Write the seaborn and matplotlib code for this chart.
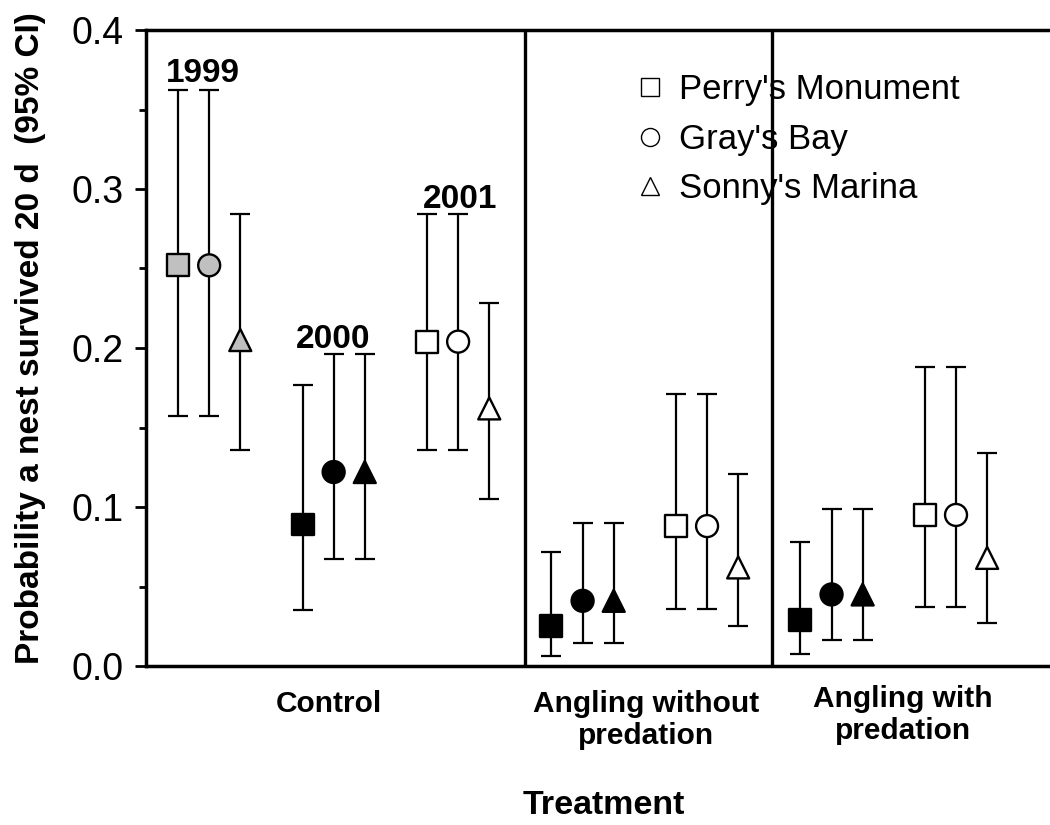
import numpy as np
import pandas as pd
import matplotlib
matplotlib.use("Agg")
import matplotlib.pyplot as plt
import matplotlib.transforms as mtransforms
from matplotlib.lines import Line2D
import seaborn as sns

# ---- data ----
treatments = ["Control", "Control", "Control",
              "Angling without predation", "Angling without predation",
              "Angling with predation", "Angling with predation"]
years = [1999, 2000, 2001, 2000, 2001, 2000, 2001]
sites = ["Perry's Monument", "Gray's Bay", "Sonny's Marina"]

# estimates per (treatment-year block) x site
estimate = [
    [0.252, 0.252, 0.205],
    [0.089, 0.122, 0.122],
    [0.204, 0.204, 0.162],
    [0.025, 0.041, 0.041],
    [0.088, 0.088, 0.062],
    [0.029, 0.045, 0.045],
    [0.095, 0.095, 0.068],
]
lower = [
    [0.157, 0.157, 0.136],
    [0.035, 0.067, 0.067],
    [0.136, 0.136, 0.105],
    [0.0065, 0.0145, 0.0145],
    [0.036, 0.036, 0.025],
    [0.0075, 0.0163, 0.0163],
    [0.037, 0.037, 0.027],
]
upper = [
    [0.362, 0.362, 0.284],
    [0.177, 0.196, 0.196],
    [0.284, 0.284, 0.228],
    [0.072, 0.090, 0.090],
    [0.171, 0.171, 0.121],
    [0.078, 0.099, 0.099],
    [0.188, 0.188, 0.134],
]
tick_labels = ["Control", "Angling without\npredation", "Angling with\npredation"]
year_labels = ["1999", "2000", "2001"]

# ---- build long table ----
rows = []
for b, (tr, yr) in enumerate(zip(treatments, years)):
    for s, site in enumerate(sites):
        rows.append(dict(block=b, treatment=tr, year=str(yr), site=site,
                         x=4 * b + s, est=estimate[b][s],
                         lo=lower[b][s], hi=upper[b][s]))
df = pd.DataFrame(rows)

sns.set_theme(style="ticks")
plt.rcParams["font.family"] = ["Liberation Sans", "DejaVu Sans"]
plt.rcParams.update({"text.color": "black", "axes.labelcolor": "black",
                     "xtick.color": "black", "ytick.color": "black",
                     "axes.edgecolor": "black"})

fig = plt.figure(figsize=(10.5, 8.25), dpi=100)
ax = fig.add_axes([146 / 1050, 1 - 666 / 825, 1 - 146 / 1050, (666 - 30) / 825])

# error bars
ax.errorbar(df["x"], df["est"],
            yerr=[df["est"] - df["lo"], df["hi"] - df["est"]],
            fmt="none", ecolor="black", elinewidth=1.6, capsize=7.5,
            capthick=1.6, zorder=2)

palette = {"1999": "#c0c0c0", "2000": "black", "2001": "white"}
markers = {"Perry's Monument": "s", "Gray's Bay": "o", "Sonny's Marina": "^"}
sns.scatterplot(data=df, x="x", y="est", hue="year", style="site",
                palette=palette, markers=markers, s=250,
                edgecolor="black", linewidth=1.7, legend=False,
                ax=ax, zorder=3)

# dividers
for xd in [11.15, 19.08]:
    ax.axvline(xd, color="black", lw=2.4, zorder=1)

ax.set_xlim(-1.03, 28.02)
ax.set_ylim(0, 0.4)
ax.set_yticks([0, 0.1, 0.2, 0.3, 0.4])
ax.set_yticklabels(["0.0", "0.1", "0.2", "0.3", "0.4"])
ax.set_yticks(np.arange(0.05, 0.4, 0.1), minor=True)
ax.tick_params(axis="y", which="major", length=8, width=2, labelsize=27,
               pad=8, direction="out", colors="black")
ax.tick_params(axis="y", which="minor", length=5, width=2, direction="out")

ax.set_xticks([4.85, 15.05, 23.3])
ax.set_xticklabels(tick_labels, fontsize=21.5, fontweight="bold",
                   linespacing=1.22)
ax.tick_params(axis="x", length=0, pad=17)
last = ax.get_xticklabels()[2]
last.set_transform(last.get_transform() +
                   mtransforms.ScaledTranslation(0, 0.05, fig.dpi_scale_trans))

for side in ["left", "top", "bottom"]:
    ax.spines[side].set_linewidth(2.5)
    ax.spines[side].set_color("black")
ax.spines["right"].set_visible(False)

ax.set_xlabel("Treatment", fontsize=24.5, fontweight="bold")
ax.xaxis.label.set_va("center")
ax.xaxis.set_label_coords((604 - 146) / 904, (666 - 806) / 636)
ax.set_ylabel("Probability a nest survived 20 d  (95% CI)", fontsize=24,
              fontweight="bold")
ax.yaxis.label.set_va("center")
ax.yaxis.set_label_coords((31 - 146) / 904, (666 - 338) / 636)

# year annotations
ax.text(0.8, 0.367, year_labels[0], fontsize=24, fontweight="bold",
        ha="center", va="baseline")
ax.text(4.98, 0.200, year_labels[1], fontsize=24, fontweight="bold",
        ha="center", va="baseline")
ax.text(9.06, 0.288, year_labels[2], fontsize=24, fontweight="bold",
        ha="center", va="baseline")

handles = [Line2D([], [], marker=markers[s], linestyle="none",
                  markerfacecolor="white", markeredgecolor="black",
                  markeredgewidth=1.0, markersize=13, label=s)
           for s in sites]
ax.legend(handles=handles, loc="upper left",
          bbox_to_anchor=((636 - 146) / 904, (666 - 73) / 636),
          frameon=False, fontsize=25, handletextpad=0.45, labelspacing=0.48,
          borderaxespad=0, borderpad=0, handlelength=0.8)

fig.savefig("out.png", dpi=100)
